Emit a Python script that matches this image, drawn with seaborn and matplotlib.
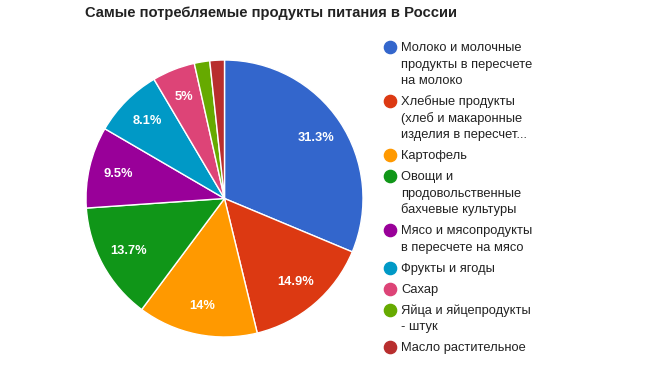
import matplotlib
matplotlib.use("Agg")
import matplotlib.pyplot as plt
import seaborn as sns
import numpy as np
from matplotlib.lines import Line2D

sns.set_theme(style="white")
plt.rcParams['font.family'] = ['Liberation Sans', 'DejaVu Sans']

title = "Самые потребляемые продукты питания в России"
categories = [
    "Молоко и молочные\nпродукты в пересчете\nна молоко",
    "Хлебные продукты\n(хлеб и макаронные\nизделия в пересчет...",
    "Картофель",
    "Овощи и\nпродовольственные\nбахчевые культуры",
    "Мясо и мясопродукты\nв пересчете на мясо",
    "Фрукты и ягоды",
    "Сахар",
    "Яйца и яйцепродукты\n- штук",
    "Масло растительное",
]
values = [31.3, 14.9, 14.0, 13.7, 9.5, 8.1, 5.0, 1.8, 1.7]
pct_labels = ["31.3%", "14.9%", "14%", "13.7%", "9.5%", "8.1%", "5%", "", ""]
colors = ["#3366cc", "#dc3912", "#ff9900", "#109618", "#990099",
          "#0099c6", "#dd4477", "#66aa00", "#b82e2e"]
palette = sns.color_palette(colors)

W, H = 650, 390
fig = plt.figure(figsize=(W / 100, H / 100), dpi=100)
fig.patch.set_facecolor("white")

# pie axes: center (224.5, 198.5) px, radius 138.5 px
cx, cy, r = 224.5, 198.5, 138.5
ax = fig.add_axes([(cx - r) / W, 1 - (cy + r) / H, 2 * r / W, 2 * r / H])
wedges, _ = ax.pie(values, colors=palette, startangle=90, counterclock=False,
                   radius=1.0,
                   wedgeprops=dict(edgecolor="white", linewidth=1.0))
total = sum(values)
cum = 0.0
for v, lab in zip(values, pct_labels):
    mid = cum + v / 2
    cum += v
    if not lab:
        continue
    ang = np.deg2rad(90 - 360 * mid / total)
    d = 0.79
    ax.text(d * np.cos(ang), d * np.sin(ang), lab, color="white",
            fontsize=9.3, fontweight="bold", ha="center", va="center")
ax.set_xlim(-1, 1)
ax.set_ylim(-1, 1)
ax.set_aspect("equal")
ax.axis("off")

fig.text(85 / W, 1 - 13 / H, title, fontsize=10.6, fontweight="bold",
         color="#222222", ha="left", va="center")

# legend
y = 47.0
line_h = 16.5
gap = 4.5
for lab, col in zip(categories, palette):
    lines = lab.split("\n")
    fig.add_artist(Line2D([390 / W], [1 - y / H], marker="o", markersize=8.8,
                          color=col, linestyle="none", transform=fig.transFigure))
    for j, ln in enumerate(lines):
        fig.text(401 / W, 1 - (y + j * line_h + 4.3) / H, ln, fontsize=9.3,
                 color="#222222", ha="left", va="baseline")
    y += len(lines) * line_h + gap

fig.savefig("out.png", dpi=100, facecolor="white")
